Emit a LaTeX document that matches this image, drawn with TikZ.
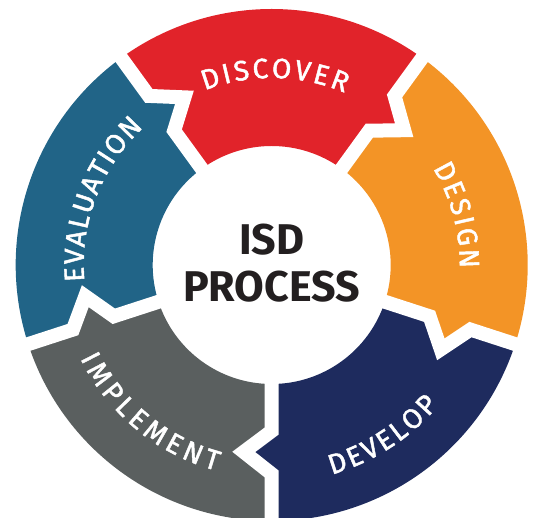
\documentclass[tikz,border=0pt]{standalone}
\usepackage{fontspec}
\setsansfont{Fira Sans}
\newfontfamily\labelfont{Fira Sans}[FakeBold=1.6]
\newcommand\labelsize{\fontsize{28}{28}\selectfont}
\usetikzlibrary{decorations.text}

\definecolor{discoverred}{HTML}{E1232A}
\definecolor{designorange}{HTML}{F39426}
\definecolor{developblue}{HTML}{1E2B5E}
\definecolor{implementgray}{HTML}{5A5F5F}
\definecolor{evalblue}{HTML}{216487}
\definecolor{titleblack}{HTML}{231F20}

\begin{document}
\begin{tikzpicture}[
  x=1pt, y=1pt,
  gap/.style={draw=white, line width=14pt, miter limit=10},
  title/.style={font=\sffamily\bfseries\fontsize{43}{43}\selectfont, text=titleblack, anchor=base, inner sep=0pt},
  ringtext/.style={decorate, decoration={text along path, text align={fit to path}, text color=white,
    text={|\labelfont\labelsize|#1}}}
]
\useasboundingbox (-271.7,-253) rectangle (263.3,265);

% ring segments, clockwise from the top
\foreach \bs/\be/\col in {126/54/discoverred, 54/-18/designorange, -18/-90/developblue,
                          -90/-162/implementgray, 198/126/evalblue}
  \fill[\col] (\be:256) -- (\be:209) -- ({\be-8.5}:189) -- (\be:166) -- (\be:119)
    arc[start angle=\be, end angle=\bs, radius=119]
    -- (\bs:166) -- ({\bs-8.5}:189) -- (\bs:209) -- (\bs:256)
    arc[start angle=\bs, end angle=\be, radius=256] -- cycle;

% white gaps between segments
\foreach \b in {126,54,-18,-90,-162}
  \draw[gap] (\b:264) -- (\b:209) -- ({\b-8.5}:189) -- (\b:166) -- (\b:110);

\node[title] (isd) at (0,10) {ISD};
\node[title] (process) at (0,-36.7) {PROCESS};

% labels along the ring
\path[ringtext=DISCOVER] (111:187) arc[start angle=111, end angle=67, radius=187];
\path[ringtext=DESIGN] (31:188) arc[start angle=31, end angle=-1, radius=188];
\path[ringtext=DEVELOP] (-74:218) arc[start angle=-74, end angle=-40, radius=218];
\path[ringtext=IMPLEMENT] (206:213) arc[start angle=206, end angle=255, radius=213];
\path[ringtext=EVALUATION] (185:188) arc[start angle=185, end angle=133, radius=188];
\end{tikzpicture}
\end{document}
